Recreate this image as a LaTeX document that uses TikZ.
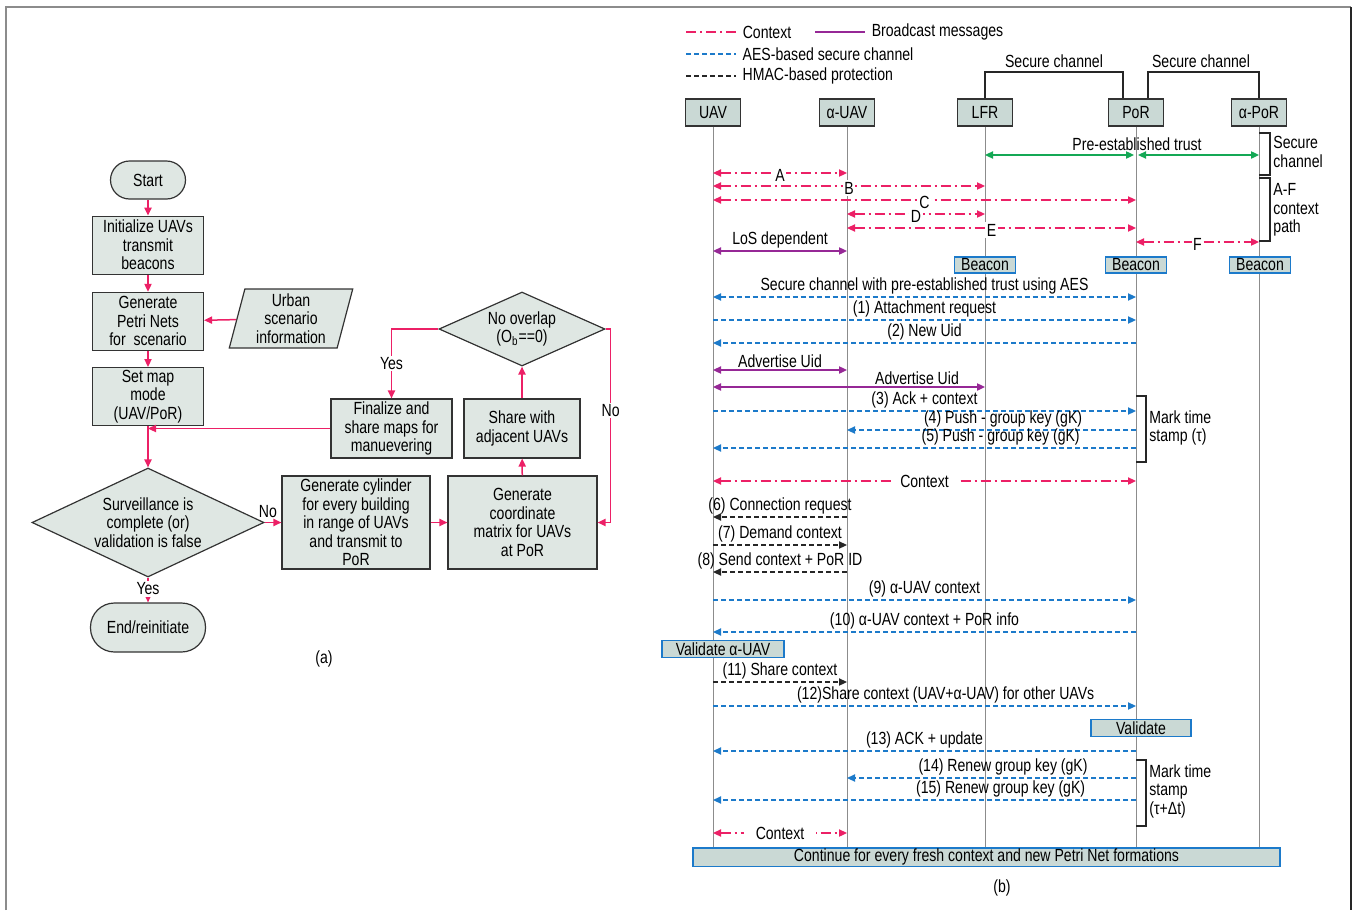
\documentclass[tikz,border=0pt]{standalone}
\usepackage{fontspec}
\setmainfont{Liberation Sans}[FakeStretch=0.8]
\usepackage{tikz}
\usetikzlibrary{arrows.meta, positioning, calc, shapes.geometric}

\definecolor{ctxred}{RGB}{236,32,102}
\definecolor{aesblue}{RGB}{28,122,202}
\definecolor{bcpurple}{RGB}{150,40,150}
\definecolor{trustgreen}{RGB}{20,168,85}
\definecolor{fcfill}{RGB}{223,231,227}
\definecolor{hdrfill}{RGB}{202,217,213}

\begin{document}
\begin{tikzpicture}[
  x=0.5pt, y=-0.5pt, font=\fontsize{8.8}{9.25}\selectfont,
  > = {Triangle[length=4pt,width=3.6pt]},
  fcbox/.style = {draw=black!80, fill=fcfill, line width=0.6pt, align=center, inner sep=1pt},
  term/.style = {fcbox, rounded corners=9.5pt},
  decide/.style = {fcbox, diamond, inner sep=0pt},
  flow/.style = {draw=ctxred, line width=0.75pt, ->},
  hdr/.style = {draw=black!80, fill=hdrfill, line width=0.6pt, minimum width=27.5pt, minimum height=13.5pt, inner sep=1pt},
  beacon/.style = {draw=aesblue, fill=hdrfill, line width=0.7pt, minimum width=30.5pt, minimum height=8pt, inner sep=0.5pt},
  act/.style = {beacon, minimum height=8.5pt},
  life/.style = {draw=black!45, line width=0.5pt},
  note/.style = {draw=black!85, line width=0.6pt},
  ctx/.style = {draw=ctxred, line width=0.75pt, dash pattern=on 5pt off 2pt on 1pt off 2pt},
  aes/.style = {draw=aesblue, line width=0.7pt, dash pattern=on 2.5pt off 1.5pt},
  hmac/.style = {draw=black!85, line width=0.7pt, dash pattern=on 2.5pt off 1.5pt},
  bcast/.style = {draw=bcpurple, line width=0.8pt},
  trust/.style = {draw=trustgreen, line width=0.8pt},
  msg/.style = {above, inner sep=1pt},
  lbl/.style = {fill=white, inner sep=0.8pt}
  ]
  \useasboundingbox (0,0) rectangle (1358,910);
  \draw[black!45, line width=0.75pt] (6,910) |- (1351,7);
  \draw[black!85, line width=0.6pt] (1351,7) -- (1351,910);

  % (a) flow chart
  \node[term, minimum width=37.5pt, minimum height=19pt] (@start) at (148,180) {Start};
  \node[fcbox, minimum width=55.5pt, minimum height=29pt, below=8pt of @start] (@init) {Initialize UAVs\\transmit\\beacons};
  \node[fcbox, minimum width=55.5pt, minimum height=29pt, below=8.5pt of @init] (@petri) {Generate\\Petri Nets\\for\ \ scenario};
  \node[fcbox, minimum width=55.5pt, minimum height=29pt, below=8pt of @petri] (@mode) {Set map\\mode\\(UAV/PoR)};
  \node[fcbox, trapezium, trapezium left angle=77, trapezium right angle=103, trapezium stretches=true,
        minimum width=62pt, minimum height=29.5pt] (@urban) at (291,318.5) {Urban\\scenario\\information};
  \node[decide, aspect=2.1, minimum width=116pt, minimum height=54.5pt] (@surv) at (148,522.5) {Surveillance is\\complete (or)\\validation is false};
  \node[term, rounded corners=12pt, minimum width=57.5pt, minimum height=24.5pt] (@end) at (148,627.5) {End/reinitiate};
  \node[fcbox, minimum width=74pt, minimum height=46.5pt] (@cyl) at (356,522.5) {Generate cylinder\\for every building\\in range of UAVs\\and transmit to\\PoR};
  \node[fcbox, minimum width=74.5pt, minimum height=46.5pt] (@coord) at (522.5,522.5) {Generate\\coordinate\\matrix for UAVs\\at PoR};
  \node[fcbox, minimum width=58pt, minimum height=29.5pt] (@share) at (522,428.5) {Share with\\adjacent UAVs};
  \node[decide, aspect=2.2, minimum width=83pt, minimum height=37pt] (@nover) at (522,329) {No overlap\\(O\textsubscript{b}==0)};
  \node[fcbox, minimum width=60.5pt, minimum height=29.5pt] (@final) at (391.5,428.5) {Finalize and\\share maps for\\manuevering};
  \draw[flow] (@start) -- (@init);
  \draw[flow] (@init) -- (@petri);
  \draw[flow] (@urban) -- (@petri);
  \draw[flow] (@petri) -- (@mode);
  \draw[flow] (@mode) -- (@surv);
  \draw[flow] (@final.west) -- (@final.west -| @mode.south);
  \draw[flow] (@surv.east) -- node[above, pos=0.2, inner sep=2pt] {No} (@cyl.west);
  \draw[flow] (@surv) -- node[lbl, pos=0.45] {Yes} (@end);
  \draw[flow] (@cyl) -- (@coord);
  \draw[flow] (@coord) -- (@share);
  \draw[flow] (@share) -- (@nover);
  \draw[flow] (@nover.west) -| node[lbl, pos=0.75] {Yes} (@final.north);
  \draw[flow] (@nover.east) -- ++(5,0) |- node[lbl, pos=0.21] {No} (@coord.east);
  \node (@capa) at (324,659) {(a)};

  % (b) message sequence
  \draw[ctx] (686,32) -- (736,32) node[right, inner sep=3pt] (@lgctx) {Context};
  \draw[bcast] (815,32) -- (865,32) node[right, inner sep=3pt] (@lgbc) {Broadcast messages};
  \draw[aes] (686,54) -- (736,54) node[right, inner sep=3pt] (@lgaes) {AES-based secure channel};
  \draw[hmac] (686,76) -- (736,76) node[right, inner sep=3pt] (@lghmac) {HMAC-based protection};

  \node[hdr] (@UAV) at (713,112.5) {UAV};
  \node[hdr] (@aUAV) at (847,112.5) {α-UAV};
  \node[hdr] (@LFR) at (985,112.5) {LFR};
  \node[hdr] (@PoR) at (1136,112.5) {PoR};
  \node[hdr] (@aPoR) at (1259,112.5) {α-PoR};
  \foreach \n in {@UAV,@aUAV,@LFR,@PoR,@aPoR}
    \draw[life] (\n.south) -- (\n |- 0,848);

  \draw[note] (@LFR.north) |- (1123,72) -- (@PoR.north -| 1123,0);
  \draw[note] (@PoR.north -| 1148,0) |- (@aPoR.north |- 0,72) -- (@aPoR.north);
  \node (@sc1) at (1054,61) {Secure channel};
  \node (@sc2) at (1201,61) {Secure channel};

  \draw[trust,<->] (@LFR |- 0,155) -- ([xshift=-1pt]@PoR |- 0,155);
  \draw[trust,<->] ([xshift=1pt]@PoR |- 0,155) -- (@aPoR |- 0,155);
  \node[above, inner sep=2pt] (@trust) at (1137,155) {Pre-established trust};
  \draw[note] (@aPoR |- 0,133) -| (1270,175) -- (@aPoR |- 0,175);
  \node[right, align=left, inner sep=1pt] (@scnote) at (1271,152) {Secure\\channel};
  \draw[note] (@aPoR |- 0,178) -| (1270,241) -- (@aPoR |- 0,241);
  \node[right, align=left, inner sep=1pt] (@afnote) at (1271,210) {A-F\\context\\path};

  \draw[ctx,<->] (@UAV |- 0,173) -- node[lbl, yshift=-1pt] {A} (@aUAV |- 0,173);
  \draw[ctx,<->] (@UAV |- 0,186) -- node[lbl, yshift=-1pt] {B} (@LFR |- 0,186);
  \draw[ctx,<->] (@UAV |- 0,200) -- node[lbl, yshift=-1pt] {C} (@PoR |- 0,200);
  \draw[ctx,<->] (@aUAV |- 0,214) -- node[lbl, yshift=-1pt] {D} (@LFR |- 0,214);
  \draw[ctx,<->] (@aUAV |- 0,228) -- node[lbl, yshift=-1pt] {E} (@PoR |- 0,228);
  \draw[ctx,<->] (@PoR |- 0,242) -- node[lbl, yshift=-1pt] {F} (@aPoR |- 0,242);
  \draw[bcast,<->] (@UAV |- 0,251) -- node[msg] {LoS dependent} (@aUAV |- 0,251);

  \node[beacon] (@bLFR) at (@LFR |- 0,265) {Beacon};
  \node[beacon] (@bPoR) at (@PoR |- 0,265) {Beacon};
  \node[beacon] (@baPoR) at (1260,265) {Beacon};

  \draw[aes,<->] (@UAV |- 0,297) -- node[msg] {Secure channel with pre-established trust using AES} (@PoR |- 0,297);
  \draw[aes,->] (@UAV |- 0,320) -- node[msg] {(1) Attachment request} (@PoR |- 0,320);
  \draw[aes,->] (@PoR |- 0,343) -- node[msg] {(2) New Uid} (@UAV |- 0,343);
  \draw[bcast,<->] (@UAV |- 0,370) -- node[msg] {Advertise Uid} (@aUAV |- 0,370);
  \draw[bcast,<->] (@UAV |- 0,387) -- node[msg, pos=0.75] {Advertise Uid} (@LFR |- 0,387);
  \draw[aes,->] (@UAV |- 0,411) -- node[msg] {(3) Ack + context} (@PoR |- 0,411);
  \draw[aes,->] (@PoR |- 0,430) -- node[msg, pos=0.46] {(4) Push - group key (gK)} (@aUAV |- 0,430);
  \draw[aes,->] (@PoR |- 0,448) -- node[msg, pos=0.32] {(5) Push - group key (gK)} (@UAV |- 0,448);
  \draw[note] (@PoR |- 0,396) -| (1146,462) -- (@PoR |- 0,462);
  \node[right, align=left, inner sep=1pt] (@mark1) at (1147,428) {Mark time\\stamp (τ)};

  \draw[ctx,<->] (@UAV |- 0,481) -- node[lbl, inner xsep=4pt] {Context} (@PoR |- 0,481);
  \draw[hmac,->] (@aUAV |- 0,517) -- node[msg] {(6) Connection request} (@UAV |- 0,517);
  \draw[hmac,->] (@UAV |- 0,545) -- node[msg] {(7) Demand context} (@aUAV |- 0,545);
  \draw[hmac,->] (@aUAV |- 0,572) -- node[msg] {(8) Send context + PoR ID} (@UAV |- 0,572);
  \draw[aes,->] (@UAV |- 0,600) -- node[msg] {(9) α-UAV context} (@PoR |- 0,600);
  \draw[aes,->] (@PoR |- 0,632) -- node[msg] {(10) α-UAV context + PoR info} (@UAV |- 0,632);
  \node[act, minimum width=61pt] (@valUAV) at (723,649) {Validate α-UAV};
  \draw[hmac,->] (@UAV |- 0,682) -- node[msg] {(11) Share context} (@aUAV |- 0,682);
  \draw[aes,->] (@UAV |- 0,706) -- node[msg, pos=0.55] {(12)Share context (UAV+α-UAV) for other UAVs} (@PoR |- 0,706);
  \node[act, minimum width=50pt] (@valPoR) at (1141,728) {Validate};
  \draw[aes,->] (@PoR |- 0,751) -- node[msg] {(13) ACK + update} (@UAV |- 0,751);
  \draw[aes,->] (@PoR |- 0,778) -- node[msg, pos=0.46] {(14) Renew group key (gK)} (@aUAV |- 0,778);
  \draw[aes,->] (@PoR |- 0,800) -- node[msg, pos=0.32] {(15) Renew group key (gK)} (@UAV |- 0,800);
  \draw[note] (@PoR |- 0,760) -| (1146,826) -- (@PoR |- 0,826);
  \node[right, align=left, inner sep=1pt] (@mark2) at (1147,791) {Mark time\\stamp\\(τ+Δt)};
  \draw[ctx,<->] (@UAV |- 0,833) -- node[lbl, inner xsep=6pt] {Context} (@aUAV |- 0,833);

  \node[act, minimum width=293.5pt] (@cont) at (986.5,857) {Continue for every fresh context and new Petri Net formations};
  \node (@capb) at (1002,888) {(b)};
\end{tikzpicture}
\end{document}
